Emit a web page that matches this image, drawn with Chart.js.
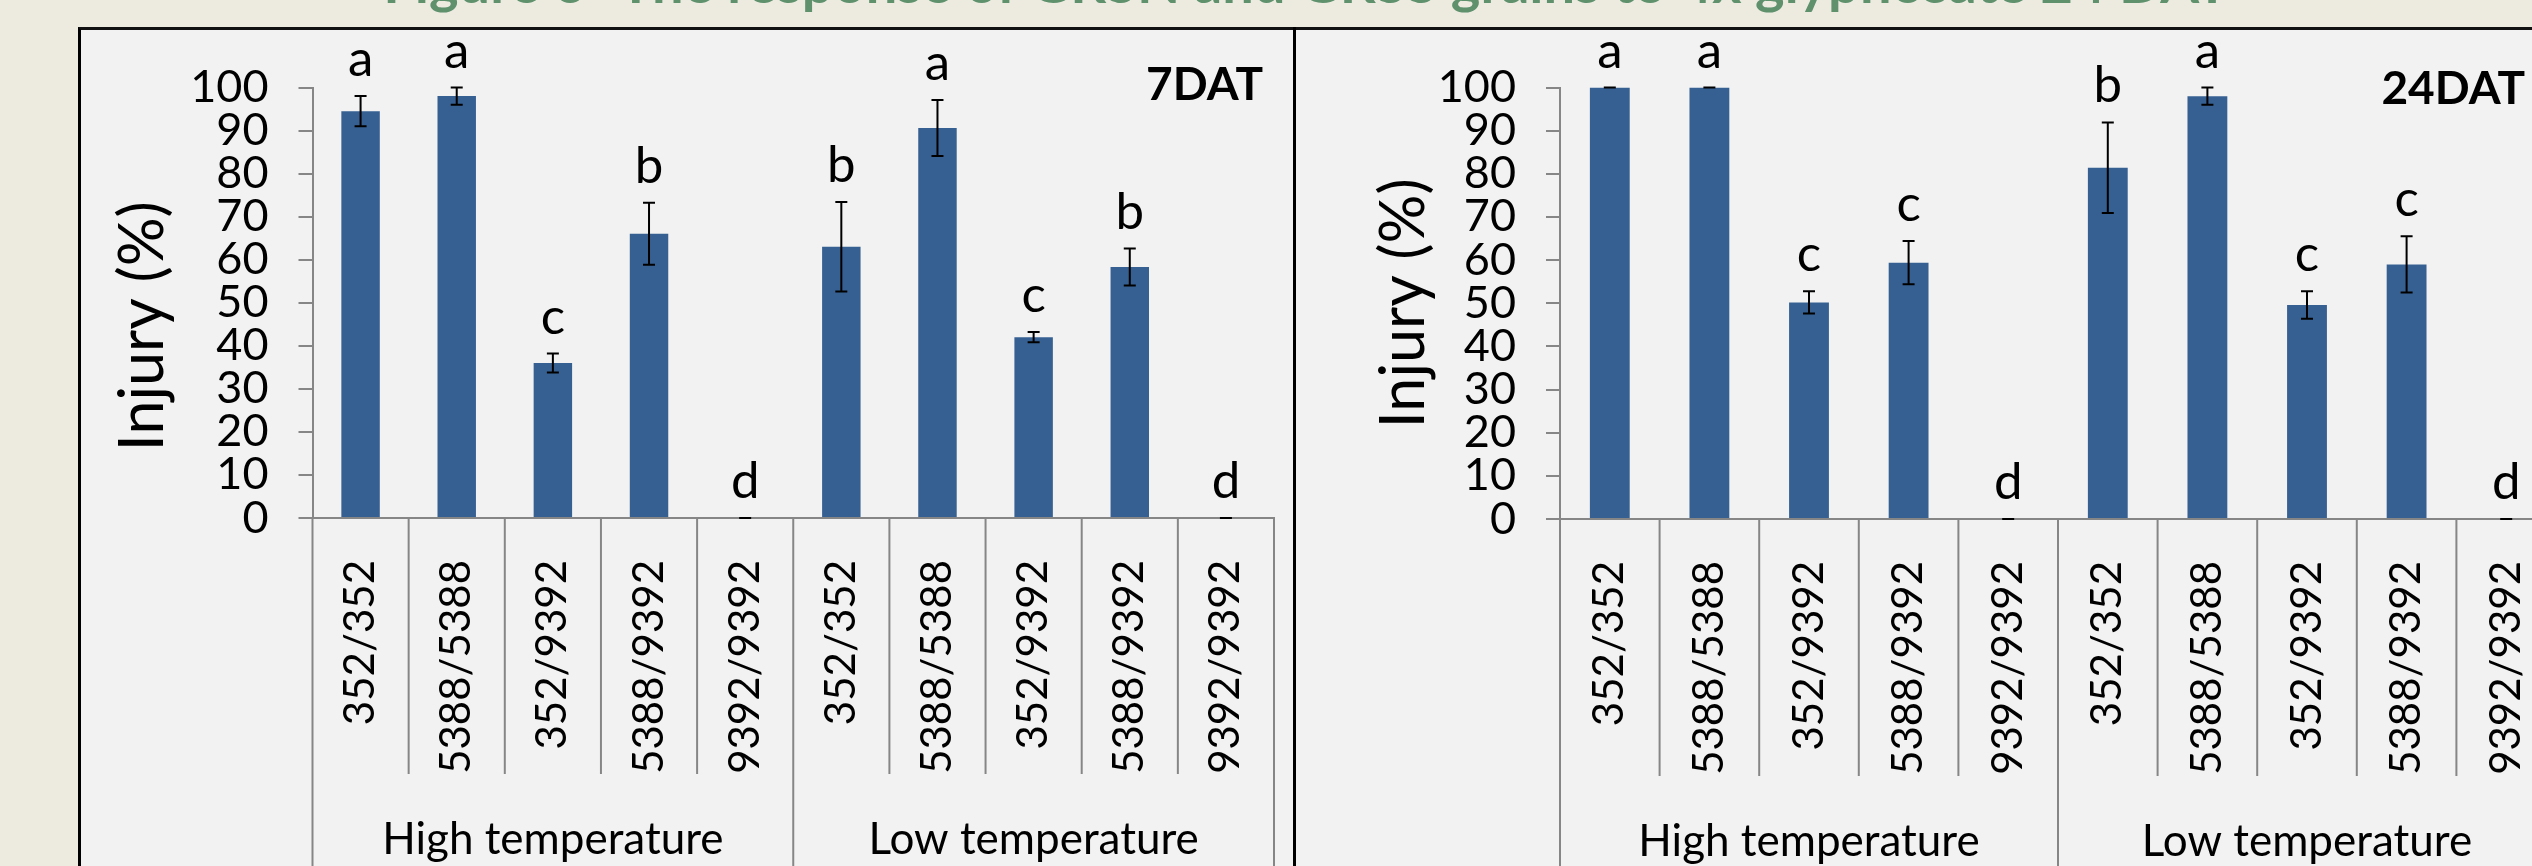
<!DOCTYPE html>
<html>
<head>
<meta charset="utf-8">
<script src="https://cdn.jsdelivr.net/npm/chart.js@4.4.1/dist/chart.umd.min.js"></script>
<style>
  html, body { margin: 0; padding: 0; width: 2532px; height: 866px; overflow: hidden; background: #edebe0; font-family: Lato, sans-serif; }
  #title { position: absolute; left: 40px; width: 2532px; top: -46px; text-align: center; font-weight: bold; font-size: 56px; line-height: 56px; color: #5f916d; white-space: nowrap; }
  #board { position: absolute; left: 78px; top: 27px; width: 2600px; height: 900px; background: #f2f2f2; border-left: 3px solid #000; border-top: 3px solid #111; }
  #divider { position: absolute; left: 1293px; top: 27px; width: 3px; height: 900px; background: #000; }
  canvas { position: absolute; top: 30px; }
  #chart7 { left: 81px; }
  #chart24 { left: 1296px; }
</style>
</head>
<body>
<div id="title">Figure 6- The response of GRSN and GRSS grains to 4x glyphosate 24 DAT</div>
<div id="board"></div>
<div id="divider"></div>
<canvas id="chart7" width="1212" height="836"></canvas>
<canvas id="chart24" width="1263" height="836"></canvas>

<script>
// Injury (%) of the hybrid combinations at two temperatures

const genotypes = ['352/352', '5388/5388', '352/9392', '5388/9392', '9392/9392',
  '352/352', '5388/5388', '352/9392', '5388/9392', '9392/9392'];
const groups = ['High temperature', 'Low temperature'];
const yTicks = [0, 10, 20, 30, 40, 50, 60, 70, 80, 90, 100];

// 7 days after treatment
const injury7 = [94.5, 98, 36, 66, 0, 63, 90.6, 42, 58.3, 0];
const error7 = [3.5, 2, 2.2, 7.2, 0, 10.4, 6.5, 1.2, 4.3, 0];
const letters7 = ['a', 'a', 'c', 'b', 'd', 'b', 'a', 'c', 'b', 'd'];

// 24 days after treatment
const injury24 = [100, 100, 50.2, 59.4, 0, 81.4, 98, 49.6, 59, 0];
const error24 = [0, 0, 2.6, 5, 0, 10.5, 2, 3.2, 6.5, 0];
const letters24 = ['a', 'a', 'c', 'c', 'd', 'b', 'a', 'c', 'c', 'd'];

const AXIS_GREY = '#868686';
const BAR_BLUE = '#376092';

Chart.defaults.font.family = 'Lato, sans-serif';
Chart.defaults.color = '#000';

// error bars, significance letters and the DAT tag
const errorLetters = {
  id: 'errorLetters',
  afterDatasetsDraw(chart, args, opts) {
    const { ctx, chartArea } = chart;
    const y = chart.scales.y;
    const values = chart.data.datasets[0].data;
    const meta = chart.getDatasetMeta(0);

    ctx.save();
    ctx.strokeStyle = '#000';
    ctx.lineWidth = 2;
    ctx.fillStyle = '#000';
    meta.data.forEach((bar, i) => {
      const hi = y.getPixelForValue(values[i] + opts.errors[i]);
      const lo = y.getPixelForValue(values[i] - opts.errors[i]);
      ctx.beginPath();
      ctx.moveTo(bar.x, hi);
      ctx.lineTo(bar.x, lo);
      ctx.moveTo(bar.x - 6, hi);
      ctx.lineTo(bar.x + 6, hi);
      ctx.moveTo(bar.x - 6, lo);
      ctx.lineTo(bar.x + 6, lo);
      ctx.stroke();

      ctx.font = '51px Lato, sans-serif';
      ctx.textAlign = 'center';
      ctx.textBaseline = 'alphabetic';
      ctx.fillText(opts.letters[i], bar.x, hi - 20);
    });

    ctx.font = 'bold 46px Lato, sans-serif';
    ctx.textAlign = 'right';
    ctx.fillText(opts.tag, chartArea.right - opts.tagInset, chartArea.top + opts.tagDrop);
    ctx.restore();
  }
};

// vertical separators of the two-level category axis
const categoryDividers = {
  id: 'categoryDividers',
  afterDraw(chart) {
    const { ctx } = chart;
    const x = chart.scales.x;
    const n = chart.data.labels.length;
    const groupSize = n / groups.length;

    ctx.save();
    ctx.strokeStyle = AXIS_GREY;
    ctx.lineWidth = 2;
    for (let i = 0; i <= n; i++) {
      const px = x.getPixelForValue(i - 0.5);
      const bottom = i % groupSize === 0 ? chart.height : x.bottom;
      ctx.beginPath();
      ctx.moveTo(px, x.top);
      ctx.lineTo(px, bottom);
      ctx.stroke();
    }
    ctx.restore();
  }
};

function buildChart(canvasId, values, errors, letters, setup) {
  const ctx = document.getElementById(canvasId);
  return new Chart(ctx, {
    type: 'bar',
    data: {
      labels: genotypes,
      datasets: [{
        data: values,
        backgroundColor: BAR_BLUE,
        borderWidth: 0,
        barPercentage: 0.4,
        categoryPercentage: 1.0
      }]
    },
    options: {
      responsive: false,
      animation: false,
      events: [],
      layout: {
        padding: { top: 57.5, right: setup.padRight, left: 0, bottom: 0 }
      },
      plugins: {
        legend: { display: false },
        tooltip: { enabled: false },
        errorLetters: {
          errors: errors,
          letters: letters,
          tag: setup.tag,
          tagInset: setup.tagInset,
          tagDrop: setup.tagDrop
        }
      },
      scales: {
        x: {
          weight: 0,
          // grid hidden; the tick length only pushes the labels down
          grid: { display: false, drawTicks: true, tickLength: 42 },
          border: { display: true, color: AXIS_GREY, width: 2 },
          ticks: {
            font: { size: 42 },
            color: '#000',
            minRotation: 90,
            maxRotation: 90,
            autoSkip: false,
            padding: 0
          },
          afterFit(scale) { scale.height = setup.xHeight; }
        },
        x2: {
          type: 'category',
          labels: groups,
          position: 'bottom',
          offset: true,
          weight: 1,
          grid: { display: false, drawTicks: true, tickLength: 39 },
          border: { display: false },
          ticks: {
            font: { size: 44 },
            color: '#000',
            maxRotation: 0,
            autoSkip: false,
            padding: 0
          },
          afterFit(scale) { scale.height = setup.groupHeight; }
        },
        y: {
          min: 0,
          max: 100,
          afterBuildTicks(scale) {
            scale.ticks = yTicks.map(v => ({ value: v }));
          },
          grid: {
            drawOnChartArea: false,
            tickLength: 14,
            color: AXIS_GREY,
            lineWidth: 2
          },
          border: { display: true, color: AXIS_GREY, width: 2 },
          ticks: {
            font: { size: 45 },
            color: '#000',
            padding: 30,
            autoSkip: false
          },
          title: {
            display: true,
            text: setup.yTitle,
            font: { size: 61 },
            color: '#000',
            padding: { top: setup.titlePad, bottom: 0 }
          },
          afterFit(scale) { scale.width = setup.yWidth; }
        }
      }
    },
    plugins: [errorLetters, categoryDividers]
  });
}

buildChart('chart7', injury7, error7, letters7, {
  tag: '7DAT',
  tagInset: 11,
  tagDrop: 12.5,
  padRight: 19,
  yWidth: 231.5,
  titlePad: 26,
  yTitle: 'Injury (%)   ',
  xHeight: 256,
  groupHeight: 92
});

buildChart('chart24', injury24, error24, letters24, {
  tag: '24DAT',
  tagInset: 31,
  tagDrop: 16.5,
  padRight: 3,
  yWidth: 264,
  titlePad: 72,
  yTitle: 'Injury (%)',
  xHeight: 257,
  groupHeight: 90
});
</script>
</body>
</html>
